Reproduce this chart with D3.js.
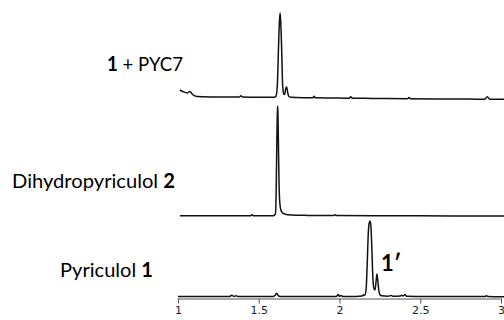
<!DOCTYPE html>
<html><head><meta charset="utf-8">
<script src="https://cdn.jsdelivr.net/npm/d3@7"></script>
<style>body{margin:0;background:#fff}svg{display:block}</style>
</head><body>
<script>
// Retention time (min) and intensity (arbitrary units)
const topTimes = [1.012,1.03,1.056,1.074,1.09,1.118,1.2,1.3,1.38,1.39,1.40,1.5,1.595,1.607,1.615,1.622,1.628,1.632,1.636,1.642,1.648,1.655,1.661,1.667,1.673,1.679,1.687,1.7,1.8,1.835,1.842,1.85,1.95,2.06,2.07,2.08,2.2,2.3,2.42,2.43,2.44,2.6,2.8,2.9,2.915,2.93,3.02];
const topValues = [9.5,8,6.5,8,5,3,2.6,2.5,2.4,3.8,2.4,2.3,2.2,3.5,14,50,78,86.5,78,50,14,5,5.5,11,12.5,7,3,2.2,1.8,1.7,3.2,1.7,1.5,1.3,2.8,1.3,1.1,0.9,0.8,1.9,0.8,0.6,0.4,0.3,2.8,0.3,0.2];

const midTimes = [1.012,1.2,1.45,1.458,1.466,1.59,1.603,1.608,1.612,1.615,1.617,1.619,1.622,1.626,1.631,1.637,1.645,1.66,1.7,1.8,1.962,1.972,1.982,2.3,2.7,3.02];
const midValues = [0.2,0.2,0.2,1.2,0.2,0.3,2,25,75,102,110,102,70,30,12,6,3.5,2,1,0.6,0.4,1.3,0.4,0.2,0.1,0.1];

const botTimes = [1.0,1.2,1.32,1.333,1.345,1.36,1.37,1.38,1.59,1.603,1.611,1.62,1.632,1.9,1.982,1.991,2.0,2.01,2.02,2.1,2.14,2.148,2.156,2.165,2.172,2.178,2.184,2.189,2.194,2.2,2.207,2.214,2.22,2.226,2.232,2.238,2.244,2.25,2.26,2.3,2.32,2.33,2.375,2.385,2.395,2.405,2.415,2.6,2.8,2.9,2.91,2.92,3.02];
const botValues = [0.5,0.5,0.5,1.8,0.6,1.2,0.5,0.5,0.6,2,3.8,1.6,0.6,0.5,0.6,2.6,0.8,1.6,0.6,0.6,1,2.2,1.5,8,35,63,74,76,72,50,18,8,7,15,23,15,6,2.5,1.2,0.8,1.5,0.8,1,1.8,1,2.6,0.8,0.5,0.4,0.4,1.2,0.4,0.3];

const tickValues = [1, 1.5, 2, 2.5, 3];
const traceLabels = [
  {bold: "1", rest: " + PYC7", boldFirst: true},
  {bold: "2", rest: "Dihydropyriculol ", boldFirst: false},
  {bold: "1", rest: "Pyriculol ", boldFirst: false}
];
const peakLabel = "1\u2032";

const W = 504, H = 320;
const svg = d3.select("body").append("svg").attr("width", W).attr("height", H);

const x = d3.scaleLinear().domain([1, 3]).range([178, 501]);
const baselines = [99.5, 216, 297];
const yScales = baselines.map(b => d3.scaleLinear().domain([0, 100]).range([b, b - 100]));

const traces = [
  {t: topTimes, v: topValues},
  {t: midTimes, v: midValues},
  {t: botTimes, v: botValues}
];

traces.forEach((tr, i) => {
  const pts = tr.t.map((t, j) => [t, tr.v[j]]);
  const line = d3.line()
    .x(d => x(d[0]))
    .y(d => yScales[i](d[1]))
    .curve(d3.curveMonotoneX);
  svg.append("path")
    .datum(pts)
    .attr("d", line)
    .attr("fill", "none")
    .attr("stroke", "#111")
    .attr("stroke-width", 1.5)
    .attr("stroke-linejoin", "round");
});

// axis
const axis = d3.axisBottom(x)
  .tickValues(tickValues)
  .tickSize(5)
  .tickSizeOuter(0)
  .tickPadding(3)
  .tickFormat(d => String(d));
const ag = svg.append("g").attr("transform", "translate(0,298.5)").call(axis);
ag.selectAll("path,line").attr("stroke", "#555").attr("stroke-width", 1);
ag.selectAll("text").attr("fill", "#222")
  .style("font-family", "DejaVu Sans, sans-serif").style("font-size", "11px");

// trace labels
const labelFont = "Lato, 'Open Sans', sans-serif";
const labelPos = [[107, 71, 76], [12, 188, 163], [60, 277, 93]];
traceLabels.forEach((L, i) => {
  const t = svg.append("text")
    .attr("x", labelPos[i][0]).attr("y", labelPos[i][1])
    .attr("textLength", labelPos[i][2]).attr("lengthAdjust", "spacingAndGlyphs")
    .style("font-family", labelFont).style("font-size", "20px").attr("fill", "#000");
  if (L.boldFirst) {
    t.append("tspan").attr("font-weight", "bold").text(L.bold);
    t.append("tspan").text(L.rest);
  } else {
    t.append("tspan").text(L.rest);
    t.append("tspan").attr("font-weight", "bold").text(L.bold);
  }
});

svg.append("text")
  .attr("x", x(2.232) + 4).attr("y", 270.5)
  .style("font-family", labelFont).style("font-size", "22px")
  .attr("font-weight", "bold").attr("fill", "#000")
  .text(peakLabel);
</script>
</body></html>
